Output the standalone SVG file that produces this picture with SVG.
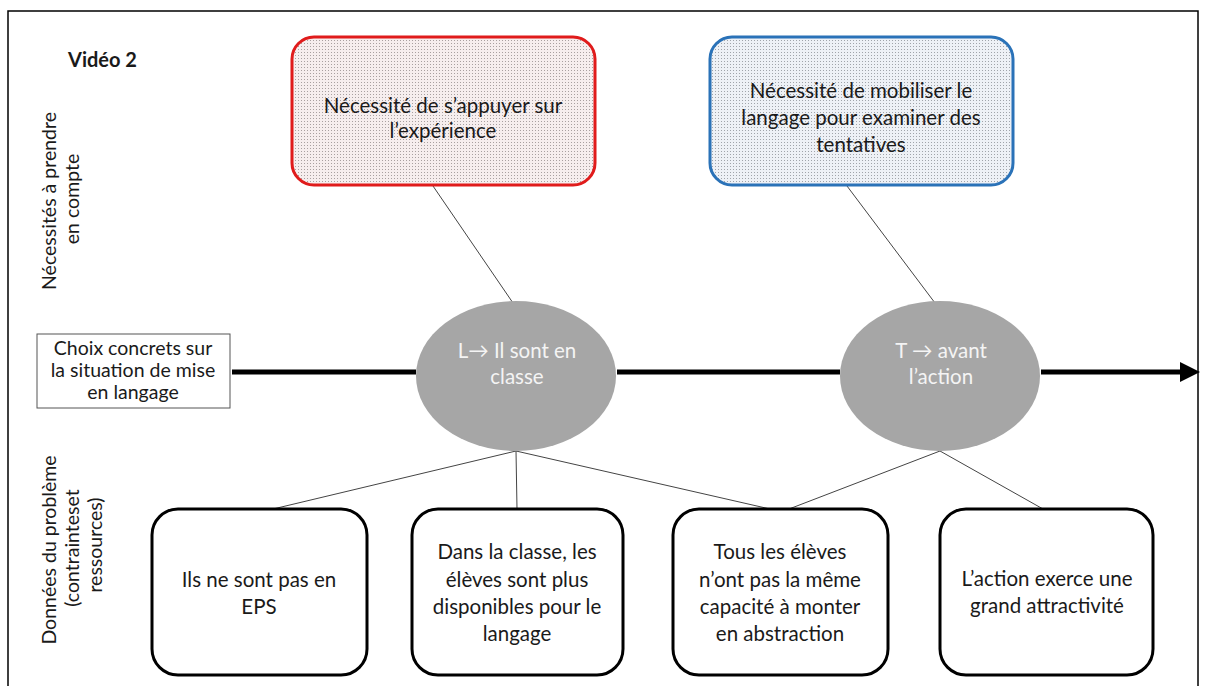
<svg xmlns="http://www.w3.org/2000/svg" width="1207" height="686" viewBox="0 0 1207 686">
<defs>
<pattern id="dotsRed" width="3" height="3" patternUnits="userSpaceOnUse">
<rect width="3" height="3" fill="#f6eeee"/>
<rect x="1" y="1" width="1" height="1" fill="#a8a0a0"/>
</pattern>
<pattern id="dotsBlue" width="3" height="3" patternUnits="userSpaceOnUse">
<rect width="3" height="3" fill="#eef1f6"/>
<rect x="1" y="1" width="1" height="1" fill="#a0a4aa"/>
</pattern>
<marker id="arrow" markerWidth="4" markerHeight="4" refX="0" refY="2" orient="auto" markerUnits="strokeWidth">
<path d="M0,0 L4,2 L0,4 Z" fill="#000"/>
</marker>
</defs>
<style>
text{font-family:Lato,"Open Sans","DejaVu Sans",sans-serif;font-size:20.5px;fill:#1a1a1a;text-anchor:middle}
.lbl{font-size:19.5px}
.ell text{fill:#f4f4f4}
.box{fill:#fff;stroke:#000;stroke-width:3}
.thin{stroke:#444;stroke-width:1;fill:none}
</style>
<rect x="8" y="11" width="1190" height="690" fill="#fff" stroke="#000" stroke-width="1.5"/>
<text x="68" y="67" style="font-weight:bold;font-size:20px;text-anchor:start">Vidéo 2</text>
<g id="label-necessites">
<text class="lbl" transform="translate(56,201) rotate(-90)">Nécessités à prendre</text>
<text class="lbl" transform="translate(79,199) rotate(-90)">en compte</text>
</g>
<g id="label-donnees">
<text class="lbl" transform="translate(56,550) rotate(-90)">Données du problème</text>
<text class="lbl" transform="translate(79,548) rotate(-90)">(contrainteset</text>
<text class="lbl" transform="translate(102,545) rotate(-90)">ressources)</text>
</g>
<g id="connectors">
<line x1="232" y1="372" x2="416" y2="372" stroke="#000" stroke-width="5"/>
<line x1="617" y1="372" x2="840" y2="372" stroke="#000" stroke-width="5"/>
<line x1="1041" y1="372" x2="1180" y2="372" stroke="#000" stroke-width="5" marker-end="url(#arrow)"/>
<line class="thin" x1="433" y1="186" x2="513" y2="303"/>
<line class="thin" x1="847" y1="186" x2="935" y2="303"/>
<line class="thin" x1="516" y1="451" x2="273" y2="509"/>
<line class="thin" x1="516" y1="451" x2="517" y2="509"/>
<line class="thin" x1="516" y1="451" x2="770" y2="509"/>
<line class="thin" x1="940" y1="451" x2="789" y2="509"/>
<line class="thin" x1="940" y1="451" x2="1043" y2="509"/>
</g>
<g id="choix">
<rect x="37" y="334" width="193" height="74" fill="#fff" stroke="#555" stroke-width="1"/>
<text class="lbl" x="133" y="355">Choix concrets sur</text>
<text class="lbl" x="133" y="377">la situation de mise</text>
<text class="lbl" x="133" y="399">en langage</text>
</g>
<g id="nec-experience">
<rect x="292" y="37" width="303" height="148" rx="22" fill="url(#dotsRed)" stroke="#e01b1b" stroke-width="3"/>
<text x="443" y="113">Nécessité de s’appuyer sur</text>
<text x="443" y="138">l’expérience</text>
</g>
<g id="nec-langage">
<rect x="710" y="37" width="303" height="148" rx="22" fill="url(#dotsBlue)" stroke="#2a72b8" stroke-width="3"/>
<text x="861" y="98">Nécessité de mobiliser le</text>
<text x="861" y="125">langage pour examiner des</text>
<text x="861" y="152">tentatives</text>
</g>
<g id="ell-L" class="ell">
<ellipse cx="516" cy="376" rx="100" ry="75" fill="#a6a6a6"/>
<text x="517" y="358">L→ Il sont en</text>
<text x="517" y="384">classe</text>
</g>
<g id="ell-T" class="ell">
<ellipse cx="940" cy="376" rx="100" ry="75" fill="#a6a6a6"/>
<text x="941" y="358">T → avant</text>
<text x="941" y="384">l’action</text>
</g>
<g id="box-eps">
<rect class="box" x="152" y="509" width="215" height="166" rx="26"/>
<text x="259" y="587">Ils ne sont pas en</text>
<text x="259" y="614">EPS</text>
</g>
<g id="box-classe">
<rect class="box" x="412" y="509" width="211" height="166" rx="26"/>
<text x="517" y="559">Dans la classe, les</text>
<text x="517" y="587">élèves sont plus</text>
<text x="517" y="614">disponibles pour le</text>
<text x="517" y="641">langage</text>
</g>
<g id="box-abstraction">
<rect class="box" x="673" y="509" width="215" height="166" rx="26"/>
<text x="780" y="559">Tous les élèves</text>
<text x="780" y="587">n’ont pas la même</text>
<text x="780" y="614">capacité à monter</text>
<text x="780" y="641">en abstraction</text>
</g>
<g id="box-action">
<rect class="box" x="940" y="509" width="213" height="166" rx="26"/>
<text x="1047" y="586">L’action exerce une</text>
<text x="1047" y="613">grand attractivité</text>
</g>
</svg>
